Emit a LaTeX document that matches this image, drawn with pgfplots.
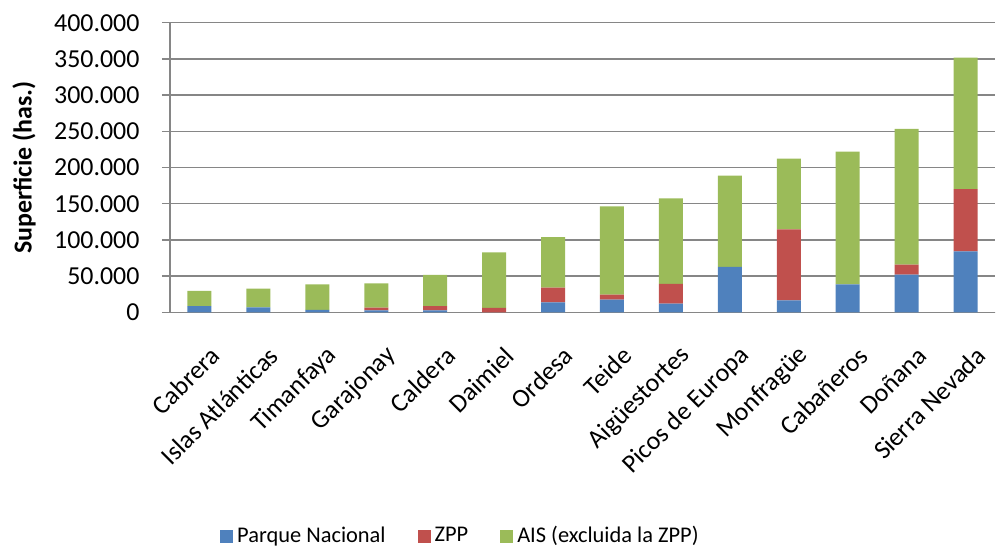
\documentclass[border=0pt]{standalone}
\usepackage{pgfplots}
\pgfplotsset{compat=1.18}
\usepackage{fontspec}
\setmainfont{Carlito}
\definecolor{pnblue}{HTML}{4F81BD}
\definecolor{zppred}{HTML}{C0504D}
\definecolor{aisgreen}{HTML}{9BBB59}
\definecolor{axgray}{HTML}{868686}
\begin{document}
\fontsize{22}{26}\selectfont
\begin{tikzpicture}
\begin{axis}[
  scale only axis, width=825bp, height=289.6bp,
  ybar stacked, bar width=24bp,
  xmin=-0.5, xmax=13.5, ymin=0, ymax=400000,
  xtick={0,...,13},
  xticklabels={Cabrera, Islas Atlánticas, Timanfaya, Garajonay, Caldera, Daimiel, Ordesa, Teide, Aigüestortes, Picos de Europa, Monfragüe, Cabañeros, Doñana, Sierra Nevada},
  xtick style={draw=none},
  xticklabel style={rotate=45, anchor=east, font=\fontsize{26}{30}\selectfont, inner sep=1bp, yshift=-33bp, xshift=-10bp},
  ytick={0,50000,100000,150000,200000,250000,300000,350000,400000},
  scaled y ticks=false,
  /pgf/number format/fixed,
  /pgf/number format/1000 sep={.},
  /pgf/number format/assume math mode=true,
  yticklabel style={font=\fontsize{26}{30}\selectfont, xshift=-15bp},
  ytick style={axgray, line width=1.5bp},
  major tick length=8bp, tick align=outside,
  axis x line*=bottom, axis y line*=left,
  axis line style={axgray, line width=1.5bp, -},
  ymajorgrids, major grid style={axgray, line width=1.5bp},
  ylabel={\bfseries Superficie (has.)},
  ylabel style={at={(axis description cs:-0.177,0.5)}, anchor=center, font=\fontsize{26}{30}\selectfont},
  area legend,
  legend image code/.code={\fill[#1] (0bp,-6.5bp) rectangle (13bp,6.5bp);},
  legend style={at={(0.352,-0.773)}, anchor=center, draw=none, legend columns=3,
    font=\fontsize{22.5}{26}\selectfont,
    /tikz/every even column/.append style={column sep=30bp},
    /tikz/every odd column/.append style={column sep=2bp}},
  legend cell align=left,
]
\addplot[fill=pnblue, draw=none] coordinates {(0,8700) (1,6900) (2,3200) (3,2800) (4,2800) (5,0) (6,13800) (7,17500) (8,12000) (9,62600) (10,16600) (11,38700) (12,52000) (13,84300)};
\addplot[fill=zppred, draw=none] coordinates {(0,0) (1,0) (2,0) (3,3600) (4,5900) (5,6000) (6,20200) (7,6900) (8,27100) (9,0) (10,98000) (11,0) (12,13800) (13,86000)};
\addplot[fill=aisgreen, draw=none] coordinates {(0,20800) (1,25800) (2,35500) (3,33600) (4,42900) (5,76900) (6,70000) (7,122000) (8,118400) (9,126200) (10,97600) (11,183200) (12,187400) (13,181400)};
\legend{Parque Nacional, ZPP, AIS (excluida la ZPP)}
\pgfplotsinvokeforeach{-0.5,0.5,1.5,2.5,3.5,4.5,5.5,6.5,7.5,8.5,9.5,10.5,11.5,12.5,13.5}{
  \draw[axgray, line width=1.5bp] (axis cs:#1,0) -- ([yshift=-8bp]axis cs:#1,0);
}
\coordinate (LL) at (rel axis cs:0,0);
\coordinate (UR) at (rel axis cs:1,1);
\end{axis}
\pgfresetboundingbox
\path ([shift={(-170bp,-235bp)}]LL) rectangle ([shift={(1bp,22.7bp)}]UR);
\end{tikzpicture}
\end{document}
